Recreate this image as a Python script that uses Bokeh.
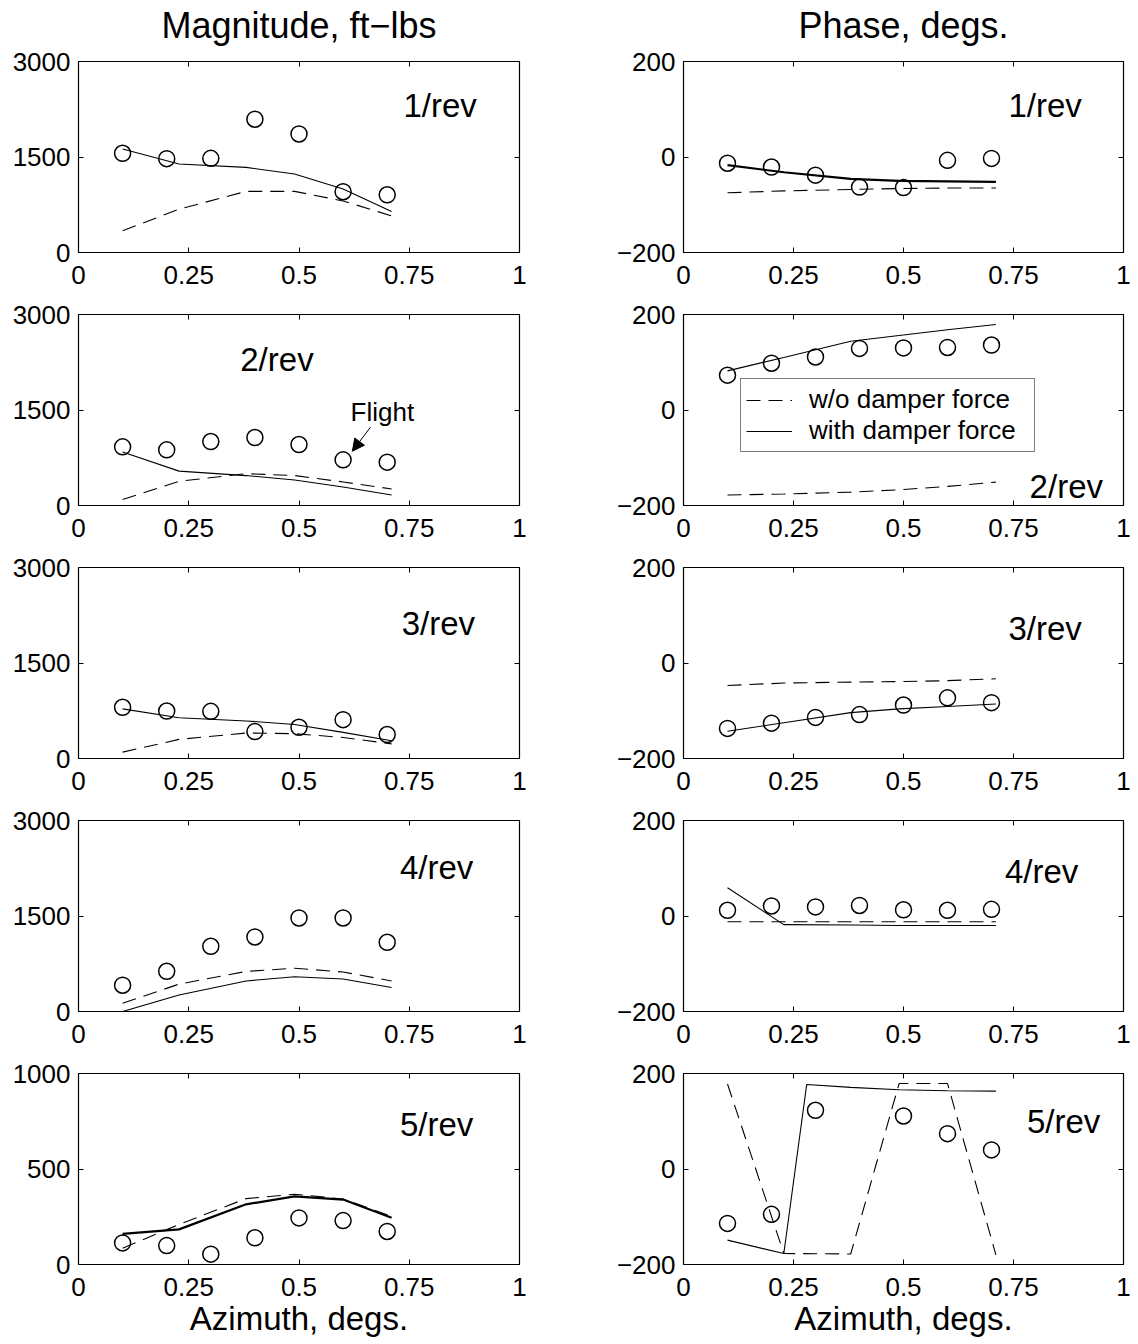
from bokeh.plotting import figure
from bokeh.models import (Range1d, LinearAxis, FixedTicker, Label, Arrow, NormalHead,
                          Legend, LegendItem)
from bokeh.layouts import gridplot
from bokeh.embed import file_html
from bokeh.resources import INLINE

FONT = "Liberation Sans"

# ---------------- data ----------------
azimuth = [0.1, 0.2, 0.3, 0.4, 0.5, 0.6, 0.7]          # flight test stations
model_x = [0.1, 0.228, 0.38, 0.49, 0.6, 0.71]          # analysis stations

x_ticks = [0, 0.25, 0.5, 0.75, 1]
x_tick_labels = ["0", "0.25", "0.5", "0.75", "1"]
mag_ticks = [0, 1500, 3000]
mag5_ticks = [0, 500, 1000]
phase_ticks = [-200, 0, 200]
phase_tick_labels = ["\u2212200", "0", "200"]

harmonics = ["1/rev", "2/rev", "3/rev", "4/rev", "5/rev"]
column_titles = ["Magnitude, ft\u2212lbs", "Phase, degs."]
x_label = "Azimuth, degs."

# Magnitude, ft-lbs
mag_flight_1 = [1558, 1474, 1479, 2093, 1862, 955, 907]
mag_with_1 = [1626, 1390, 1337, 1232, 996, 645]
mag_wo_1 = [340, 680, 960, 960, 810, 575]

mag_flight_2 = [921, 874, 1005, 1068, 958, 717, 681]
mag_with_2 = [840, 540, 470, 400, 290, 165]
mag_wo_2 = [94, 380, 500, 470, 370, 260]

mag_flight_3 = [804, 746, 741, 423, 490, 610, 376]
mag_with_3 = [780, 640, 590, 535, 410, 280]
mag_wo_3 = [100, 300, 400, 390, 330, 230]

mag_flight_4 = [413, 632, 1024, 1171, 1469, 1469, 1087]
mag_with_4 = [0, 260, 480, 545, 510, 376]
mag_wo_4 = [130, 430, 630, 680, 620, 480]

mag_flight_5 = [113, 99, 54, 140, 244, 230, 173]
mag_with_5 = [160, 184, 315, 357, 340, 245]
mag_wo_5 = [85, 210, 345, 368, 343, 252]

# Phase, degs.
phase_flight_1 = [-13, -21, -38, -63, -64, -7, -3]
phase_with_1 = [-17, -32, -46, -50, -51, -52]
phase_wo_1 = [-75, -71, -68, -66, -65, -65]

phase_flight_2 = [73, 98, 111, 129, 130, 131, 136]
phase_with_2 = [82, 110, 144, 156, 168, 179]
phase_wo_2 = [-178, -176, -172, -167, -160, -151]

phase_flight_3 = [-137, -126, -114, -108, -88, -73, -83]
phase_with_3 = [-143, -125, -104, -96, -91, -86]
phase_wo_3 = [-47, -42, -40, -39, -37, -33]

phase_flight_4 = [12, 21, 19, 22, 13, 12, 14]
phase_with_4 = [59, -18, -19, -20, -20, -20]
phase_wo_4 = [-12, -12, -12, -12, -12, -12]

phase5_flight_x = [0.1, 0.2, 0.3, 0.5, 0.6, 0.7]
phase_flight_5 = [-114, -95, 123, 111, 74, 40]
phase5_with_x = [0.1, 0.228, 0.28, 0.38, 0.49, 0.6, 0.71]
phase_with_5 = [-149, -177, 177, 171, 166, 164, 163]
phase_wo_5 = [178, -177, -178, 179, 179, -180]

# --------------- panel specs ---------------
mag_panels = [
    dict(fx=azimuth, fy=mag_flight_1, wx=model_x, wy=mag_with_1, oy=mag_wo_1, lw=1.1,
         lab=(0.82, 2310)),
    dict(fx=azimuth, fy=mag_flight_2, wx=model_x, wy=mag_with_2, oy=mag_wo_2, lw=1.1,
         lab=(0.45, 2300)),
    dict(fx=azimuth, fy=mag_flight_3, wx=model_x, wy=mag_with_3, oy=mag_wo_3, lw=1.1,
         lab=(0.816, 2120)),
    dict(fx=azimuth, fy=mag_flight_4, wx=model_x, wy=mag_with_4, oy=mag_wo_4, lw=1.1,
         lab=(0.812, 2260)),
    dict(fx=azimuth, fy=mag_flight_5, wx=model_x, wy=mag_with_5, oy=mag_wo_5, lw=2.2,
         lab=(0.812, 735)),
]
phase_panels = [
    dict(fx=azimuth, fy=phase_flight_1, wx=model_x, wy=phase_with_1, oy=phase_wo_1, lw=2.2,
         lab=(0.822, 108)),
    dict(fx=azimuth, fy=phase_flight_2, wx=model_x, wy=phase_with_2, oy=phase_wo_2, lw=1.1,
         lab=(0.87, -160)),
    dict(fx=azimuth, fy=phase_flight_3, wx=model_x, wy=phase_with_3, oy=phase_wo_3, lw=1.1,
         lab=(0.822, 73)),
    dict(fx=azimuth, fy=phase_flight_4, wx=model_x, wy=phase_with_4, oy=phase_wo_4, lw=1.1,
         lab=(0.814, 94)),
    dict(fx=phase5_flight_x, fy=phase_flight_5, wx=phase5_with_x, wy=phase_with_5,
         oy=phase_wo_5, lw=1.1, lab=(0.864, 100)),
]

DASH = "14 8"
TICK_FS = "26px"


def make_fig(col, row, spec):
    top = 61 if row == 0 else 16
    bottom = 80 if row == 4 else 46
    if col == 0:
        left, right, fw = 78, 82, 441
    else:
        left, right, fw = 82, 15, 440
    fh = 191
    if col == 0:
        yr = (0, 1000) if row == 4 else (0, 3000)
        yt = mag5_ticks if row == 4 else mag_ticks
        ylabels = {t: str(t) for t in yt}
    else:
        yr = (-200, 200)
        yt = phase_ticks
        ylabels = dict(zip(phase_ticks, phase_tick_labels))

    p = figure(width=left + fw + right, height=top + fh + bottom,
               x_range=Range1d(0, 1), y_range=Range1d(*yr),
               output_backend="svg", toolbar_location=None,
               min_border_left=left, min_border_right=right,
               min_border_top=top, min_border_bottom=bottom)
    p.xgrid.visible = False
    p.ygrid.visible = False
    p.outline_line_color = "black"
    p.outline_line_width = 1.2
    p.outline_line_alpha = 1
    p.background_fill_color = "white"
    p.border_fill_color = "white"

    xax = p.below[0]
    yax = p.left[0]
    for ax, ticks, labels in ((xax, x_ticks, dict(zip(x_ticks, x_tick_labels))),
                              (yax, yt, ylabels)):
        ax.ticker = FixedTicker(ticks=ticks)
        ax.major_label_overrides = labels
        ax.major_tick_in = 5
        ax.major_tick_out = 0
        ax.minor_tick_line_color = None
        ax.axis_line_color = None
        ax.major_tick_line_color = "black"
        ax.major_label_text_font = FONT
        ax.major_label_text_font_size = TICK_FS
        ax.major_label_text_color = "black"
    xax.major_label_standoff = 13
    yax.major_label_standoff = 8

    # box ticks on top and right (tick marks only, no labels drawn)
    top_ax = LinearAxis(ticker=FixedTicker(ticks=x_ticks),
                        major_tick_in=5, major_tick_out=0, major_label_standoff=0,
                        minor_tick_line_color=None, axis_line_color=None,
                        major_label_text_color=None, major_label_text_font_size="1px")
    right_ax = LinearAxis(ticker=FixedTicker(ticks=yt),
                          major_tick_in=5, major_tick_out=0, major_label_standoff=0,
                          minor_tick_line_color=None, axis_line_color=None,
                          major_label_text_color=None, major_label_text_font_size="1px")
    if row == 0:
        # column heading carried by the top box axis
        top_ax.axis_label = column_titles[col]
        top_ax.axis_label_text_font = FONT
        top_ax.axis_label_text_font_size = "36px"
        top_ax.axis_label_text_font_style = "normal"
        top_ax.axis_label_text_color = "black"
        top_ax.axis_label_standoff = 16
    p.add_layout(top_ax, "above")
    p.add_layout(right_ax, "right")

    if row == 4:
        xax.axis_label = x_label
        xax.axis_label_text_font = FONT
        xax.axis_label_text_font_size = "33px"
        xax.axis_label_text_font_style = "normal"
        xax.axis_label_text_color = "black"
        xax.axis_label_standoff = 1

    r_wo = p.line(model_x, spec["oy"], line_color="black", line_width=1.1, line_dash=DASH)
    r_with = p.line(spec["wx"], spec["wy"], line_color="black", line_width=spec["lw"])
    p.scatter(spec["fx"], spec["fy"], marker="circle", size=16, fill_color=None,
              line_color="black", line_width=1.5)

    lx, ly = spec["lab"]
    p.add_layout(Label(x=lx, y=ly, text=harmonics[row], text_align="center",
                       text_baseline="middle", text_font=FONT, text_font_size="33px",
                       text_color="black"))

    if col == 0 and row == 1:
        p.add_layout(Label(x=0.617, y=1470, text="Flight", text_font=FONT,
                           text_font_size="26px", text_color="black",
                           text_baseline="alphabetic"))
        p.add_layout(Arrow(end=NormalHead(size=12, fill_color="black", line_color="black"),
                           x_start=0.662, y_start=1230, x_end=0.621, y_end=853,
                           line_color="black", line_width=1))
    if col == 1 and row == 1:
        legend = Legend(items=[LegendItem(label="w/o damper force", renderers=[r_wo]),
                               LegendItem(label="with damper force", renderers=[r_with])],
                        location=(57, 53))
        legend.border_line_color = "black"
        legend.border_line_width = 1
        legend.background_fill_color = "white"
        legend.background_fill_alpha = 1
        legend.label_text_font = FONT
        legend.label_text_font_size = "26px"
        legend.label_text_color = "black"
        legend.glyph_width = 46
        legend.glyph_height = 28
        legend.label_height = 28
        legend.label_width = 220
        legend.label_standoff = 17
        legend.padding = 5
        legend.spacing = 0
        legend.margin = 0
        p.add_layout(legend)
    return p


rows = []
for i in range(5):
    rows.append([make_fig(0, i, mag_panels[i]), make_fig(1, i, phase_panels[i])])

grid = gridplot(rows, toolbar_location=None)

open("out.html", "w").write(file_html(grid, INLINE))
